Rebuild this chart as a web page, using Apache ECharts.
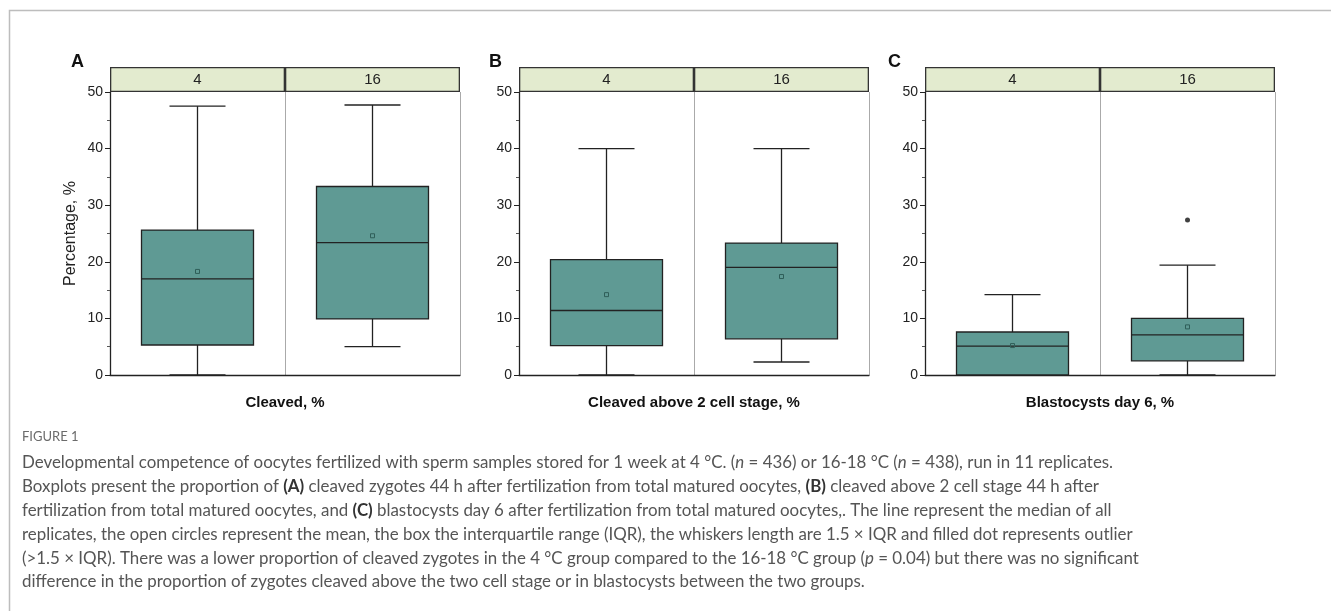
<!DOCTYPE html>
<html>
<head>
<meta charset="utf-8">
<script src="https://cdn.jsdelivr.net/npm/echarts@6/dist/echarts.min.js"></script>
<style>
  html, body { margin: 0; padding: 0; background: #fff; }
  #chart { width: 1331px; height: 611px; }
</style>
</head>
<body>
<div id="chart"></div>
<script>
// groups: storage temperature, °C
const groups = ['4', '16'];
const panelLetters = ['A', 'B', 'C'];
const panelNames = ['Cleaved, %', 'Cleaved above 2 cell stage, %', 'Blastocysts day 6, %'];

// [min, Q1, median, Q3, max] per group
const cleavedBox = [[0, 5.3, 17.0, 25.6, 47.5], [5.0, 9.9, 23.4, 33.3, 47.7]];
const cleavedMean = [18.3, 24.6];
const aboveTwoBox = [[0, 5.2, 11.4, 20.4, 40.0], [2.3, 6.4, 19.0, 23.3, 40.0]];
const aboveTwoMean = [14.2, 17.4];
const blastoBox = [[0, 0, 5.1, 7.6, 14.2], [0, 2.5, 7.1, 10.0, 19.4]];
const blastoMean = [5.2, 8.5];
const blastoOutliers = [['16', 27.4]];

const panels = [
  { box: cleavedBox, mean: cleavedMean, outliers: [] },
  { box: aboveTwoBox, mean: aboveTwoMean, outliers: [] },
  { box: blastoBox, mean: blastoMean, outliers: blastoOutliers }
];

const panelLeft = [110, 519, 925];
const plotW = 350;
const plotTop = 92;
const plotH = 283;
const headH = 25;

const boxFill = '#5f9a94';
const ink = '#222';

const renderBox = (params, api) => {
  const i = api.value(0);
  const top = api.coord([i, api.value(5)]);
  const q3 = api.coord([i, api.value(4)]);
  const med = api.coord([i, api.value(3)]);
  const q1 = api.coord([i, api.value(2)]);
  const bot = api.coord([i, api.value(1)]);
  const mean = api.coord([i, api.value(6)]);
  const band = api.size([1, 0])[0];
  const bw = band * 0.64;
  const cw = bw * 0.5;
  const x = top[0];
  const line = (x1, y1, x2, y2) => ({
    type: 'line',
    shape: { x1, y1, x2, y2 },
    style: { stroke: ink, lineWidth: 1.3 }
  });
  return {
    type: 'group',
    children: [
      line(x, top[1], x, q3[1]),
      line(x, q1[1], x, bot[1]),
      line(x - cw / 2, top[1], x + cw / 2, top[1]),
      line(x - cw / 2, bot[1], x + cw / 2, bot[1]),
      {
        type: 'rect',
        shape: { x: x - bw / 2, y: q3[1], width: bw, height: q1[1] - q3[1] },
        style: { fill: boxFill, stroke: ink, lineWidth: 1.3 }
      },
      line(x - bw / 2, med[1], x + bw / 2, med[1]),
      {
        type: 'rect',
        shape: { x: x - 2, y: mean[1] - 2, width: 4, height: 4 },
        style: { fill: 'none', stroke: '#2f5e59', lineWidth: 1 }
      }
    ]
  };
};

const grid = [];
const xAxis = [];
const yAxis = [];
const series = [];
const title = [];

panels.forEach((p, k) => {
  // main plot
  grid.push({ left: panelLeft[k], top: plotTop, width: plotW, height: plotH });
  // header strip
  grid.push({ left: panelLeft[k], top: plotTop - headH, width: plotW, height: headH });

  xAxis.push({
    type: 'category',
    gridIndex: 2 * k,
    data: groups,
    axisLine: { lineStyle: { color: ink, width: 1.3 } },
    axisTick: { alignWithLabel: true, length: 4, lineStyle: { color: ink } },
    axisLabel: { show: false },
    splitLine: { show: true, lineStyle: { color: '#aaa', width: 1 } },
    name: panelNames[k],
    nameLocation: 'middle',
    nameGap: 20,
    nameTextStyle: { fontFamily: 'Liberation Sans', fontSize: 15, fontWeight: 'bold', color: '#111' }
  });
  xAxis.push({
    type: 'category',
    gridIndex: 2 * k + 1,
    data: groups,
    show: false
  });

  yAxis.push({
    type: 'value',
    gridIndex: 2 * k,
    min: 0,
    max: 50,
    interval: 10,
    axisLine: { show: true, lineStyle: { color: ink, width: 1.3 } },
    axisTick: { show: true, length: 5, lineStyle: { color: ink } },
    minorTick: { show: true, splitNumber: 2, length: 3, lineStyle: { color: '#555' } },
    axisLabel: { fontFamily: 'Liberation Sans', fontSize: 14, color: ink, margin: 7 },
    splitLine: { show: false },
    name: k === 0 ? 'Percentage, %' : '',
    nameLocation: 'middle',
    nameGap: 31,
    nameTextStyle: { fontFamily: 'Liberation Sans', fontSize: 16, color: ink }
  });
  yAxis.push({ type: 'value', gridIndex: 2 * k + 1, min: 0, max: 1, show: false });

  series.push({
    type: 'custom',
    xAxisIndex: 2 * k,
    yAxisIndex: 2 * k,
    renderItem: renderBox,
    encode: { x: 0, y: [1, 2, 3, 4, 5] },
    data: p.box.map((b, i) => [i, ...b, p.mean[i]]),
    z: 3
  });
  if (p.outliers.length) {
    series.push({
      type: 'scatter',
      xAxisIndex: 2 * k,
      yAxisIndex: 2 * k,
      symbol: 'circle',
      symbolSize: 5,
      itemStyle: { color: '#111' },
      data: p.outliers,
      z: 4
    });
  }
  series.push({
    type: 'bar',
    xAxisIndex: 2 * k + 1,
    yAxisIndex: 2 * k + 1,
    data: groups.map(() => 1),
    barWidth: '100%',
    barCategoryGap: 0,
    itemStyle: { color: '#e3ebcf', borderColor: '#333', borderWidth: 1.3 },
    label: {
      show: true,
      position: 'inside',
      formatter: '{b}',
      fontFamily: 'Liberation Sans',
      fontSize: 15,
      color: ink
    },
    silent: true
  });

  title.push({
    text: panelLetters[k],
    left: [66, 484, 883][k],
    top: 48,
    textStyle: { fontFamily: 'Liberation Sans', fontSize: 18, fontWeight: 'bold', color: '#111' }
  });
});

const captionLines = [
  'Developmental competence of oocytes fertilized with sperm samples stored for 1 week at 4 °C. ({i|n} = 436) or 16-18 °C ({i|n} = 438), run in 11 replicates.',
  'Boxplots present the proportion of {b|(A)} cleaved zygotes 44 h after fertilization from total matured oocytes, {b|(B)} cleaved above 2 cell stage 44 h after',
  'fertilization from total matured oocytes, and {b|(C)} blastocysts day 6 after fertilization from total matured oocytes,. The line represent the median of all',
  'replicates, the open circles represent the mean, the box the interquartile range (IQR), the whiskers length are 1.5 × IQR and filled dot represents outlier',
  '(>1.5 × IQR). There was a lower proportion of cleaved zygotes in the 4 °C group compared to the 16-18 °C group ({i|p} = 0.04) but there was no significant',
  'difference in the proportion of zygotes cleaved above the two cell stage or in blastocysts between the two groups.'
];

const capFont = 'Lato';
const capSize = 16.9;
const capLine = 23.8;
const option = {
  backgroundColor: '#fff',
  animation: false,
  title,
  grid,
  xAxis,
  yAxis,
  series,
  graphic: [
    {
      type: 'polyline',
      shape: { points: [[9.5, 611], [9.5, 10.5], [1331, 10.5]] },
      style: { stroke: '#bdbdbd', lineWidth: 1.5, fill: 'none' },
      silent: true
    },
    {
      type: 'text',
      left: 22,
      top: 430,
      style: { text: 'FIGURE 1', fontFamily: capFont, fontSize: 13, fill: '#6b6b6b' }
    },
    {
      type: 'text',
      left: 22,
      top: 451,
      style: {
        text: captionLines.join('\n'),
        fontFamily: capFont,
        fontSize: capSize,
        lineHeight: capLine,
        fill: '#555',
        rich: {
          i: { fontFamily: capFont, fontSize: capSize, lineHeight: capLine, fontStyle: 'italic', fill: '#555' },
          b: { fontFamily: capFont, fontSize: capSize, lineHeight: capLine, fontWeight: 'bold', fill: '#333' }
        }
      }
    }
  ]
};

const chart = echarts.init(document.getElementById('chart'));
chart.setOption(option);
window.addEventListener('resize', () => chart.resize());
</script>
</body>
</html>
